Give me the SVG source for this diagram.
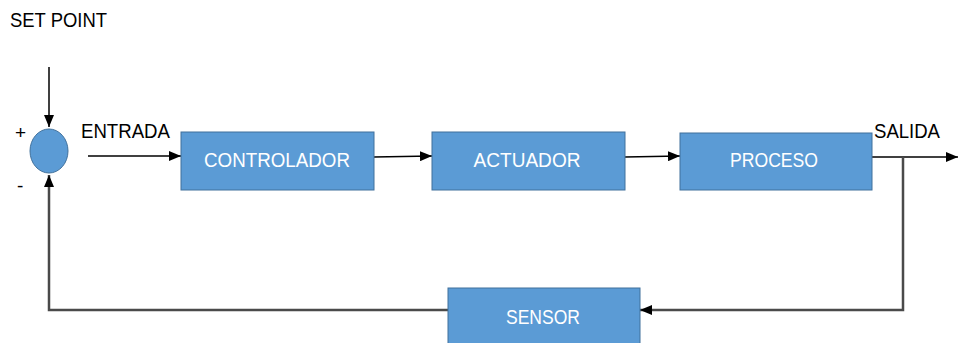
<svg xmlns="http://www.w3.org/2000/svg" width="958" height="343" viewBox="0 0 958 343">
<style>
.box{fill:#5B9BD5;stroke:#41719C;stroke-width:1}
.bt{fill:#fff;font-family:"Liberation Sans",Arial,sans-serif;font-size:21px;text-anchor:middle}
.lbl{fill:#000;font-family:"Liberation Sans",Arial,sans-serif;font-size:21px}
.ln{fill:none;stroke:#000;stroke-width:1.5}
.fb{fill:none;stroke:#4a4a4a;stroke-width:2.5}
</style>
<defs>
<marker id="ah" viewBox="0 0 12 10" refX="12" refY="5" markerWidth="12" markerHeight="10" markerUnits="userSpaceOnUse" orient="auto">
<path d="M0,0 L12,5 L0,10 z" fill="#000"/>
</marker>
</defs>
<rect width="958" height="343" fill="#fff"/>
<text class="lbl" x="10" y="27" textLength="97" lengthAdjust="spacingAndGlyphs">SET POINT</text>
<text class="lbl" x="81" y="138" textLength="89" lengthAdjust="spacingAndGlyphs">ENTRADA</text>
<text class="lbl" x="874" y="138" textLength="66" lengthAdjust="spacingAndGlyphs">SALIDA</text>
<text class="lbl" x="15" y="139" style="font-size:19px">+</text>
<text class="lbl" x="17" y="192" style="font-size:19px">-</text>
<g id="connectors">
<path class="ln" d="M49,67 V127" marker-end="url(#ah)"/>
<path class="ln" d="M88,156 H181" marker-end="url(#ah)"/>
<path class="ln" d="M374,157 L432,156" marker-end="url(#ah)"/>
<path class="ln" d="M625,157 L680,156" marker-end="url(#ah)"/>
<path class="ln" d="M872,157 H958" marker-end="url(#ah)"/>
<path class="fb" d="M903,157 V310 H640" marker-end="url(#ah)"/>
<path class="fb" d="M448,310 H49 V175" marker-end="url(#ah)"/>
</g>
<g id="sum"><ellipse cx="49" cy="151" rx="19" ry="22" fill="#5B9BD5" stroke="#41719C"/></g>
<g id="controlador"><rect class="box" x="181" y="132" width="193" height="58"/><text class="bt" x="277" y="167" textLength="146" lengthAdjust="spacingAndGlyphs">CONTROLADOR</text></g>
<g id="actuador"><rect class="box" x="432" y="132" width="193" height="58"/><text class="bt" x="527" y="167" textLength="107" lengthAdjust="spacingAndGlyphs">ACTUADOR</text></g>
<g id="proceso"><rect class="box" x="680" y="133" width="192" height="57"/><text class="bt" x="774" y="167" textLength="88" lengthAdjust="spacingAndGlyphs">PROCESO</text></g>
<g id="sensor"><rect class="box" x="448" y="288" width="192" height="60"/><text class="bt" x="543" y="324" textLength="74" lengthAdjust="spacingAndGlyphs">SENSOR</text></g>
</svg>
